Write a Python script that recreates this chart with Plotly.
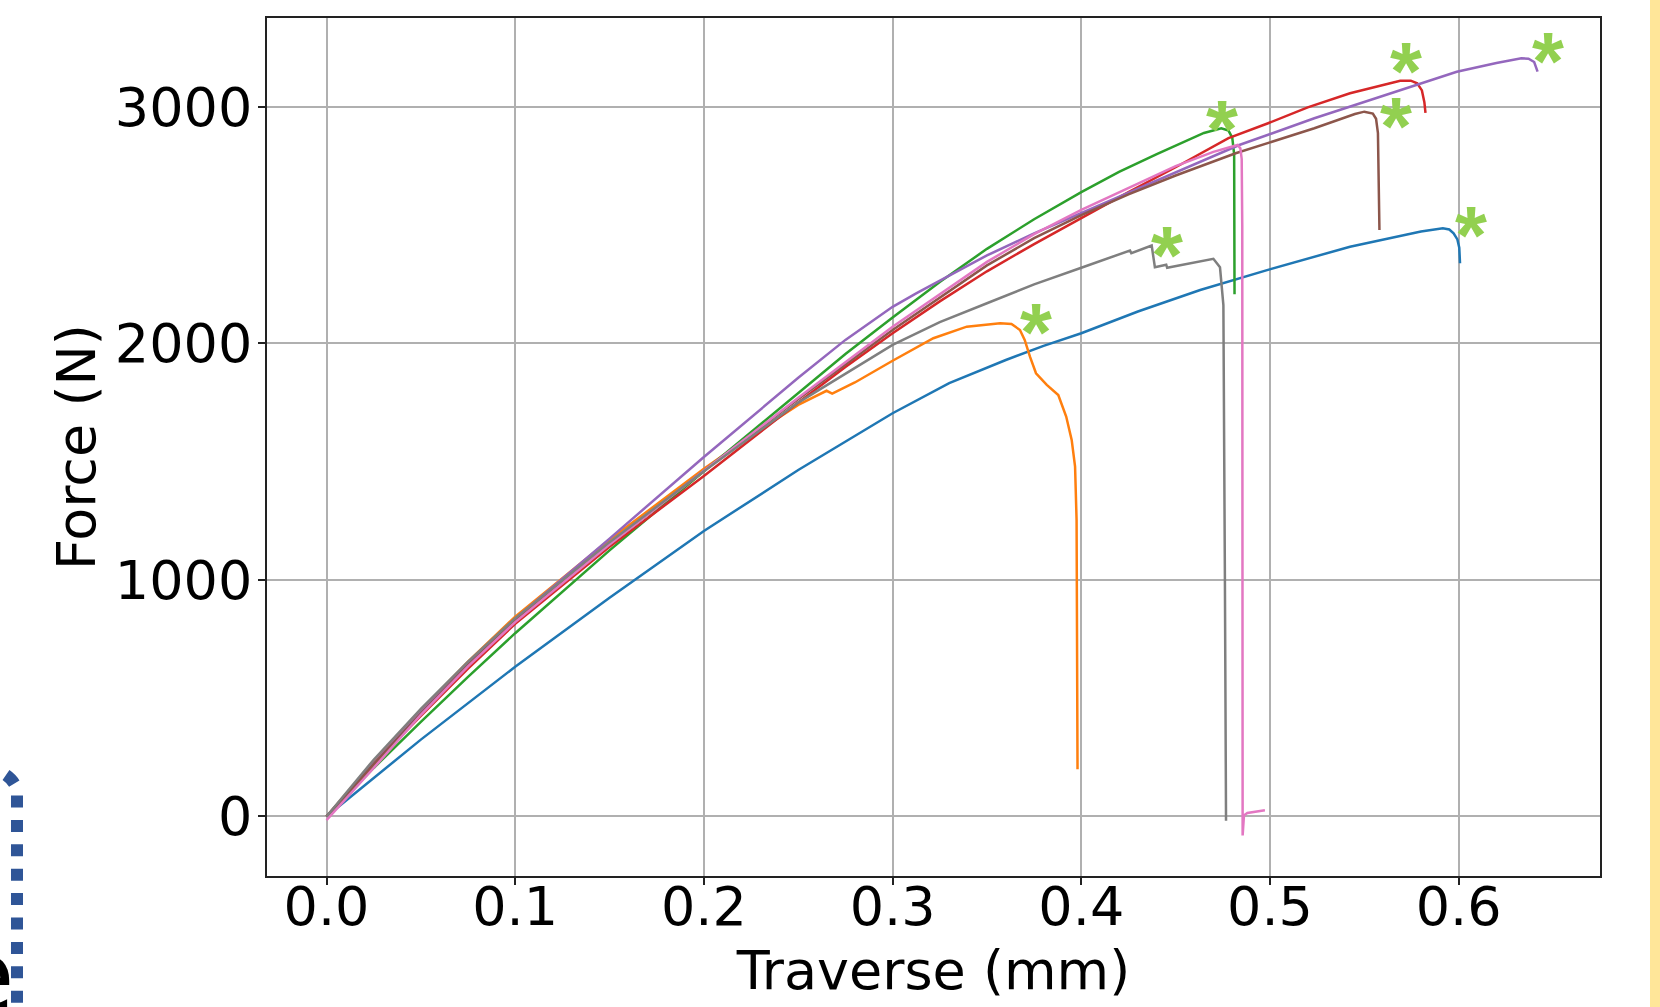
import plotly.graph_objects as go

# ---------------- data ----------------
blue_x = [0, 0.05, 0.1, 0.15, 0.2, 0.25, 0.3, 0.33, 0.36, 0.38, 0.4, 0.43, 0.463, 0.4989, 0.5424, 0.565, 0.58, 0.5916,
          0.595, 0.5973, 0.5993, 0.6003, 0.6007]
blue_f = [0, 325, 633, 925, 1207, 1465, 1705, 1832, 1930, 1990, 2043, 2135, 2226, 2311, 2409, 2448, 2473, 2487,
          2482, 2466, 2440, 2405, 2339]

orange_x = [0, 0.025, 0.05, 0.075, 0.1, 0.15, 0.2, 0.225, 0.25, 0.265, 0.268, 0.28, 0.3, 0.3216, 0.3393, 0.357, 0.363,
            0.3675, 0.370, 0.3728, 0.376, 0.3817, 0.3878, 0.392, 0.3949, 0.3967, 0.3975, 0.3978, 0.398]
orange_f = [0, 232, 450, 655, 845, 1170, 1470, 1610, 1740, 1800, 1788, 1835, 1927, 2022, 2071, 2085, 2082,
            2057, 2015, 1944, 1874, 1825, 1782, 1691, 1592, 1479, 1254, 800, 200]

green_x = [0, 0.025, 0.05, 0.075, 0.1, 0.15, 0.2, 0.25, 0.275, 0.3, 0.325, 0.35, 0.375, 0.4, 0.42, 0.44, 0.455,
           0.465, 0.4742, 0.478, 0.4800, 0.4810, 0.4812]
green_f = [0, 205, 400, 590, 775, 1125, 1460, 1790, 1955, 2110, 2260, 2400, 2525, 2640, 2725, 2800, 2855,
           2890, 2910, 2900, 2870, 2800, 2208]

red_x = [0, 0.025, 0.05, 0.075, 0.1, 0.15, 0.2, 0.25, 0.275, 0.3, 0.325, 0.35, 0.375, 0.4, 0.425, 0.45, 0.478, 0.499,
         0.52, 0.5424, 0.569, 0.5746, 0.578, 0.5805, 0.5818, 0.5824]
red_f = [0, 220, 425, 625, 815, 1140, 1440, 1750, 1900, 2043, 2178, 2305, 2420, 2529, 2640, 2745, 2868, 2931,
         2998, 3058, 3111, 3111, 3100, 3070, 3020, 2975]

purple_x = [0, 0.025, 0.05, 0.075, 0.1, 0.15, 0.2, 0.25, 0.275, 0.3, 0.3125, 0.325, 0.35, 0.375, 0.4, 0.45, 0.4837,
            0.5235, 0.578, 0.599, 0.62, 0.6332, 0.637, 0.6400, 0.6418]
purple_f = [0, 225, 440, 643, 835, 1175, 1520, 1855, 2015, 2155, 2212, 2265, 2372, 2465, 2551, 2725, 2839,
            2952, 3093, 3149, 3186, 3206, 3204, 3190, 3149]

brown_x = [0, 0.025, 0.05, 0.075, 0.1, 0.15, 0.2, 0.25, 0.3, 0.35, 0.375, 0.4, 0.425, 0.45, 0.4818, 0.5235, 0.545,
           0.55, 0.5545, 0.5562, 0.5572, 0.558]
brown_f = [0, 222, 435, 640, 828, 1150, 1462, 1765, 2057, 2330, 2445, 2543, 2630, 2710, 2804, 2910, 2970,
           2980, 2972, 2950, 2889, 2480]

pink_x = [0, 0.025, 0.05, 0.075, 0.1, 0.15, 0.2, 0.25, 0.3, 0.35, 0.375, 0.4, 0.45, 0.47, 0.4828, 0.4843, 0.4850,
          0.4853, 0.4855, 0.4862, 0.488, 0.4973]
pink_f = [-15, 205, 430, 635, 822, 1150, 1462, 1770, 2071, 2345, 2462, 2565, 2750, 2810, 2839, 2825, 2780,
          2500, -80, 5, 15, 26]

gray_x = [0, 0.025, 0.05, 0.075, 0.1, 0.15, 0.2, 0.25, 0.3, 0.325, 0.35, 0.375, 0.4, 0.4258, 0.4265, 0.4323, 0.4373,
          0.439, 0.445, 0.4455, 0.4523, 0.47, 0.4735, 0.4753, 0.4761, 0.4767]
gray_f = [0, 240, 455, 655, 838, 1160, 1460, 1750, 1994, 2090, 2170, 2250, 2320, 2393, 2382, 2400, 2414,
          2322, 2333, 2320, 2331, 2358, 2322, 2162, 1005, -18]

# failure markers (asterisks), in series order blue..gray
star_x = [0.6067, 0.3762, 0.4743, 0.5720, 0.6473, 0.5670, 0.4456]
star_f = [2515, 2107, 2963, 3207, 3250, 2976, 2433]

x_ticks = [0.0, 0.1, 0.2, 0.3, 0.4, 0.5, 0.6]
x_tick_labels = ["0.0", "0.1", "0.2", "0.3", "0.4", "0.5", "0.6"]
y_ticks = [0, 1000, 2000, 3000]
y_tick_labels = ["0", "1000", "2000", "3000"]

# ---------------- figure ----------------
series = [
    (blue_x, blue_f, "#1f77b4"),
    (orange_x, orange_f, "#ff7f0e"),
    (green_x, green_f, "#2ca02c"),
    (red_x, red_f, "#d62728"),
    (purple_x, purple_f, "#9467bd"),
    (brown_x, brown_f, "#8c564b"),
    (pink_x, pink_f, "#e377c2"),
    (gray_x, gray_f, "#7f7f7f"),
]

fig = go.Figure()
for xs, fs, col in series:
    fig.add_trace(go.Scatter(x=xs, y=fs, mode="lines", line=dict(color=col, width=2.5),
                             showlegend=False, hoverinfo="skip"))

W, H = 1660, 1007
L, T = 267, 18
R = W - 1600
B = H - 876
PW, PH = W - L - R, H - T - B


def px_x(p):  # page pixel -> paper
    return (p - L) / PW


def px_y(p):
    return (H - B - p) / PH


for sx, sf in zip(star_x, star_f):
    fig.add_annotation(x=sx, y=sf, xref="x", yref="y", text="*", showarrow=False,
                       font=dict(family="Liberation Sans", size=82, color="#92D050", weight="bold"),
                       xanchor="center", yanchor="middle", yshift=-13)

font = "DejaVu Sans"
axis_common = dict(
    showgrid=True, gridcolor="#b0b0b0", gridwidth=1.5,
    showline=True, mirror=True, linecolor="#222222", linewidth=1.8,
    ticks="outside", ticklen=7, tickwidth=1.5, tickcolor="#222222",
    zeroline=False, tickfont=dict(family=font, size=54, color="black"),
)

fig.update_layout(
    width=W, height=H,
    margin=dict(l=L, r=R, t=T, b=B, autoexpand=False),
    paper_bgcolor="white", plot_bgcolor="white",
    xaxis=dict(range=[-0.03153, 0.67488], tickvals=x_ticks, ticktext=x_tick_labels, ticklabelstandoff=-25,
               title=dict(text="Traverse (mm)", font=dict(family=font, size=54, color="black"), standoff=14),
               **axis_common),
    yaxis=dict(range=[-251.6, 3376], tickvals=y_ticks, ticktext=y_tick_labels, ticklabelstandoff=-5,
               title=dict(text="Force (N)", font=dict(family=font, size=54, color="black"), standoff=2),
               **axis_common),
)

# decorations from the surrounding slide
fig.add_shape(type="rect", xref="paper", yref="paper",
              x0=px_x(1650), x1=px_x(1660), y0=px_y(1007), y1=px_y(0),
              fillcolor="#FFE699", line=dict(width=0), layer="above")
path = "M {:.5f},{:.5f} Q {:.5f},{:.5f} {:.5f},{:.5f} L {:.5f},{:.5f}".format(
    px_x(6), px_y(775), px_x(16), px_y(782), px_x(17), px_y(792), px_x(17), px_y(1020))
fig.add_shape(type="path", xref="paper", yref="paper", path=path,
              line=dict(color="#2F5597", width=12, dash="12px,12.4px"))
fig.add_annotation(x=px_x(17), y=px_y(1037), xref="paper", yref="paper", text="e", showarrow=False,
                   xanchor="right", yanchor="bottom", font=dict(family=font, size=100, color="black"))

fig.write_html("out.html", config={"displayModeBar": False},
               post_script="document.body.style.margin='0';document.body.style.overflow='hidden';")
